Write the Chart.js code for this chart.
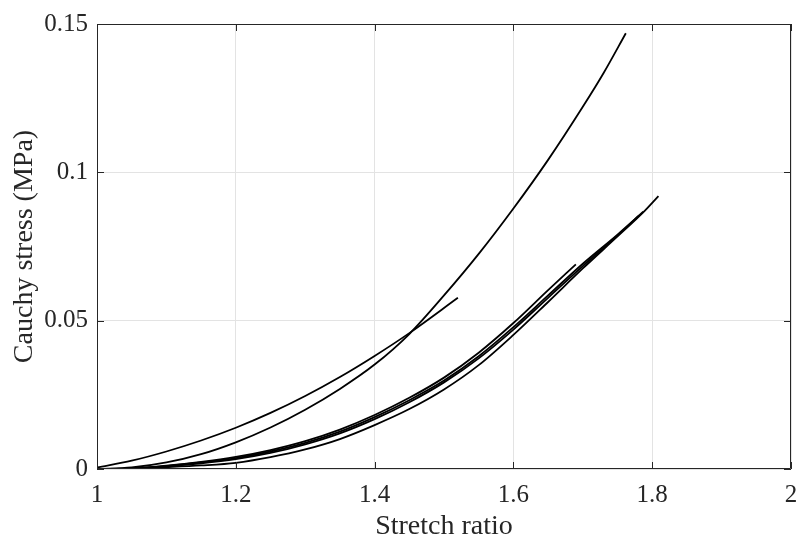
<!DOCTYPE html>
<html>
<head>
<meta charset="utf-8">
<script src="https://cdn.jsdelivr.net/npm/chart.js@4.4.0/dist/chart.umd.min.js"></script>
<style>
	html, body { margin: 0; padding: 0; background: #fff; }
	#wrap { width: 797px; height: 540px; position: relative; }
</style>
</head>
<body>
<div id="wrap"><canvas id="chartCanvas"></canvas></div>
<script>
// stretch ratio / stress (MPa)
const curveA_x = [1, 1.05, 1.1, 1.15, 1.2, 1.25, 1.3, 1.35, 1.4, 1.45, 1.5, 1.55, 1.6, 1.65, 1.7, 1.73, 1.762];
const curveA_y = [0, 0.0005, 0.0022, 0.0050, 0.0090, 0.0140, 0.0200, 0.0270, 0.0352, 0.0455, 0.0585, 0.0725, 0.0878, 0.1042, 0.1221, 0.1335, 0.1469];

const curveB_x = [1, 1.05, 1.1, 1.15, 1.2, 1.25, 1.3, 1.35, 1.4, 1.45, 1.52];
const curveB_y = [0.0005, 0.0028, 0.0059, 0.0096, 0.0139, 0.0189, 0.0246, 0.0310, 0.0381, 0.0458, 0.0577];

const curveC_x = [1, 1.05, 1.1, 1.15, 1.2, 1.25, 1.3, 1.35, 1.4, 1.45, 1.5, 1.55, 1.6, 1.65, 1.69];
const curveC_y = [0, 0.0002, 0.0011, 0.0024, 0.0041, 0.0064, 0.0094, 0.0133, 0.0182, 0.0240, 0.0308, 0.0392, 0.0492, 0.0603, 0.0690];

const curveE_x = [1, 1.05, 1.1, 1.15, 1.2, 1.25, 1.3, 1.35, 1.4, 1.45, 1.5, 1.55, 1.6, 1.65, 1.7, 1.75, 1.787];
const curveE_y = [0, 0.0002, 0.0010, 0.0022, 0.0037, 0.0059, 0.0088, 0.0126, 0.0175, 0.0232, 0.0298, 0.0380, 0.0478, 0.0585, 0.0692, 0.0790, 0.0867];

const curveF_x = [1, 1.05, 1.1, 1.15, 1.2, 1.25, 1.3, 1.35, 1.4, 1.45, 1.5, 1.55, 1.6, 1.65, 1.7, 1.75, 1.78];
const curveF_y = [0, 0.0002, 0.0009, 0.0019, 0.0033, 0.0054, 0.0083, 0.0120, 0.0168, 0.0225, 0.0292, 0.0373, 0.0470, 0.0577, 0.0684, 0.0787, 0.0852];

const curveD_x = [1, 1.05, 1.1, 1.15, 1.2, 1.25, 1.3, 1.35, 1.4, 1.45, 1.5, 1.55, 1.6, 1.65, 1.7, 1.75, 1.787, 1.809];
const curveD_y = [0, 0.0001, 0.0006, 0.0012, 0.0021, 0.0040, 0.0066, 0.0101, 0.0148, 0.0202, 0.0268, 0.0350, 0.0452, 0.0563, 0.0676, 0.0784, 0.0865, 0.0920];

const xTicks = [1, 1.2, 1.4, 1.6, 1.8, 2];
const yTicks = [0, 0.05, 0.1, 0.15];

const FONT = '"Liberation Serif", "Times New Roman", serif';
const AXIS = '#262626';

function pts(xs, ys) {
	return xs.map((x, i) => ({ x, y: ys[i] }));
}

function lineSet(xs, ys) {
	return {
		data: pts(xs, ys),
		showLine: true,
		borderColor: '#000',
		borderWidth: 1.8,
		pointRadius: 0,
		cubicInterpolationMode: 'monotone',
		fill: false
	};
}

// MATLAB style box with inward ticks
const boxPlugin = {
	id: 'boxPlugin',
	afterDatasetsDraw(chart) {
		const { ctx, chartArea: a, scales } = chart;
		const len = 7;
		ctx.save();
		ctx.strokeStyle = AXIS;
		ctx.lineWidth = 1;
		ctx.beginPath();
		ctx.rect(a.left + 0.5, a.top + 0.5, a.right - a.left - 1, a.bottom - a.top - 1);
		xTicks.forEach(v => {
			const px = Math.round(scales.x.getPixelForValue(v)) + 0.5;
			ctx.moveTo(px, a.bottom);
			ctx.lineTo(px, a.bottom - len);
			ctx.moveTo(px, a.top);
			ctx.lineTo(px, a.top + len);
		});
		yTicks.forEach(v => {
			const py = Math.round(scales.y.getPixelForValue(v)) + 0.5;
			ctx.moveTo(a.left, py);
			ctx.lineTo(a.left + len, py);
			ctx.moveTo(a.right, py);
			ctx.lineTo(a.right - len, py);
		});
		ctx.stroke();
		ctx.restore();
	}
};

function renderChart() {
	const ctx = document.getElementById('chartCanvas').getContext('2d');
	new Chart(ctx, {
		type: 'scatter',
		data: {
			datasets: [
				lineSet(curveA_x, curveA_y),
				lineSet(curveB_x, curveB_y),
				lineSet(curveC_x, curveC_y),
				lineSet(curveE_x, curveE_y),
				lineSet(curveF_x, curveF_y),
				lineSet(curveD_x, curveD_y)
			]
		},
		options: {
			responsive: true,
			maintainAspectRatio: false,
			animation: false,
			layout: { padding: { left: 0, right: 6, top: 24, bottom: 0 } },
			plugins: {
				legend: { display: false },
				tooltip: { enabled: false }
			},
			scales: {
				x: {
					type: 'linear',
					min: 1,
					max: 2,
					afterFit: s => {
						s.height = 71;
						s.paddingLeft = 0;
						s.paddingRight = 0;
					},
					afterBuildTicks: s => { s.ticks = xTicks.map(v => ({ value: v })); },
					grid: { color: '#e3e3e3', drawTicks: false, lineWidth: 1 },
					border: { display: false },
					ticks: {
						padding: 11,
						color: AXIS,
						font: { family: FONT, size: 25, lineHeight: 1.2 },
						maxRotation: 0,
						callback: v => String(Number(v.toFixed(2)))
					},
					title: {
						display: true,
						text: 'Stretch ratio',
						color: AXIS,
						font: { family: FONT, size: 28, lineHeight: 1.2 },
						padding: { top: 0, bottom: -3 }
					}
				},
				y: {
					type: 'linear',
					min: 0,
					max: 0.15,
					afterFit: s => {
						s.width = 97;
						s.paddingTop = 0;
						s.paddingBottom = 0;
					},
					afterBuildTicks: s => { s.ticks = yTicks.map(v => ({ value: v })); },
					grid: { color: '#e3e3e3', drawTicks: false, lineWidth: 1 },
					border: { display: false },
					ticks: {
						padding: 9,
						color: AXIS,
						font: { family: FONT, size: 25, lineHeight: 1.2 },
						callback: v => String(Number(v.toFixed(2)))
					},
					title: {
						display: true,
						text: 'Cauchy stress (MPa)',
						color: AXIS,
						font: { family: FONT, size: 28, lineHeight: 1.2 },
						padding: { top: 8, bottom: 0 }
					}
				}
			}
		},
		plugins: [boxPlugin]
	});
}

window.addEventListener('DOMContentLoaded', renderChart);
</script>
</body>
</html>
